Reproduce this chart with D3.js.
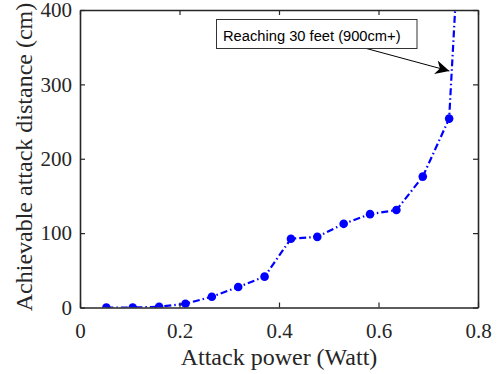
<!DOCTYPE html>
<html><head><meta charset="utf-8">
<script src="https://cdn.jsdelivr.net/npm/d3@7"></script>
<style>body{margin:0;background:#fff}svg{display:block}</style>
</head><body>
<svg id="c" width="499" height="374"></svg>
<script>
const power = [0.053, 0.106, 0.159, 0.212, 0.265, 0.318, 0.371, 0.424, 0.477, 0.530, 0.583, 0.636, 0.689, 0.742, 0.795];
const distance = [0, 0, 1, 5, 14.5, 27.5, 41.5, 92.5, 95, 112.5, 125.5, 131, 176, 254, 900];
const xTicks = [0, 0.2, 0.4, 0.6, 0.8];
const yTicks = [0, 100, 200, 300, 400];
const xLabel = "Attack power (Watt)";
const yLabel = "Achievable attack distance (cm)";
const note = "Reaching 30 feet (900cm+)";
const noteFrom = [0.5605, 351];   // arrow tail (data coords)
const noteTo = [0.7425, 318];      // arrow head (data coords)

(function(){
const svg = d3.select("#c");
const L = 80, R = 478, T = 10, B = 307.5;
const x = d3.scaleLinear().domain([0, 0.8]).range([L, R]);
const y = d3.scaleLinear().domain([0, 400]).range([B, T]);
const axisCol = "#262626";
const serif = "'Liberation Serif','Times New Roman',serif";

svg.append("defs").append("clipPath").attr("id","clip")
  .append("rect").attr("x",L).attr("y",T).attr("width",R-L).attr("height",B-T);

// data line
const line = d3.line().x(d=>x(d[0])).y(d=>y(d[1]));
const pts = power.map((p,i)=>[p, distance[i]]);
const g = svg.append("g").attr("clip-path","url(#clip)");
g.append("path").datum(pts).attr("d", line)
  .attr("fill","none").attr("stroke","#0000ff").attr("stroke-width",2.2)
  .attr("stroke-dasharray","7,3,1.5,3");
g.selectAll("circle").data(pts).join("circle")
  .attr("cx",d=>x(d[0])).attr("cy",d=>y(d[1])).attr("r",4.3).attr("fill","#0000ff");

// axes
const tickLen = 5;
const axB = d3.axisBottom(x).tickValues(xTicks).tickSizeInner(-tickLen).tickSizeOuter(0).tickPadding(16).tickFormat(d=>d===0?"0":d3.format(".1f")(d));
const axL = d3.axisLeft(y).tickValues(yTicks).tickSizeInner(-tickLen).tickSizeOuter(0).tickPadding(8).tickFormat(d3.format("d"));
const axT = d3.axisTop(x).tickValues(xTicks).tickSizeInner(-tickLen).tickSizeOuter(0).tickFormat("");
const axR = d3.axisRight(y).tickValues(yTicks).tickSizeInner(-tickLen).tickSizeOuter(0).tickFormat("");

function style(sel){
  sel.selectAll("path").attr("stroke",axisCol).attr("stroke-width",1.6);
  sel.selectAll("line").attr("stroke",axisCol).attr("stroke-width",1.2);
  sel.selectAll("text").attr("fill",axisCol).attr("font-family",serif).attr("font-size",21);
}
svg.append("g").attr("transform",`translate(0,${B})`).call(axB).call(style);
svg.append("g").attr("transform",`translate(${L},0)`).call(axL).call(style);
svg.append("g").attr("transform",`translate(0,${T})`).call(axT).call(style);
svg.append("g").attr("transform",`translate(${R},0)`).call(axR).call(style);

// axis labels
svg.append("text").attr("x",279).attr("y",365).attr("text-anchor","middle")
  .attr("font-family",serif).attr("font-size",24).attr("fill",axisCol).text(xLabel);
svg.append("text").attr("transform",`translate(32,157) rotate(-90)`).attr("text-anchor","middle")
  .attr("font-family",serif).attr("font-size",24).attr("fill",axisCol).text(yLabel);

// annotation
svg.append("defs").append("marker").attr("id","arr").attr("viewBox","0 0 10 10")
  .attr("refX",10).attr("refY",5).attr("markerWidth",14).attr("markerHeight",14)
  .attr("markerUnits","userSpaceOnUse").attr("orient","auto")
  .append("path").attr("d","M0,0 L10,5 L0,10 L3,5 Z").attr("fill","#000");
svg.append("line").attr("x1",x(noteFrom[0])).attr("y1",y(noteFrom[1]))
  .attr("x2",x(noteTo[0])).attr("y2",y(noteTo[1]))
  .attr("stroke","#000").attr("stroke-width",1).attr("marker-end","url(#arr)");
svg.append("rect").attr("x",216.5).attr("y",19.5).attr("width",200.5).attr("height",29)
  .attr("fill","#fff").attr("stroke","#333").attr("stroke-width",1);
svg.append("text").attr("x",223).attr("y",40.5).attr("font-family","'Liberation Sans',Arial,sans-serif")
  .attr("font-size",14.7).attr("fill","#000").text(note);
})();
</script>
</body></html>
